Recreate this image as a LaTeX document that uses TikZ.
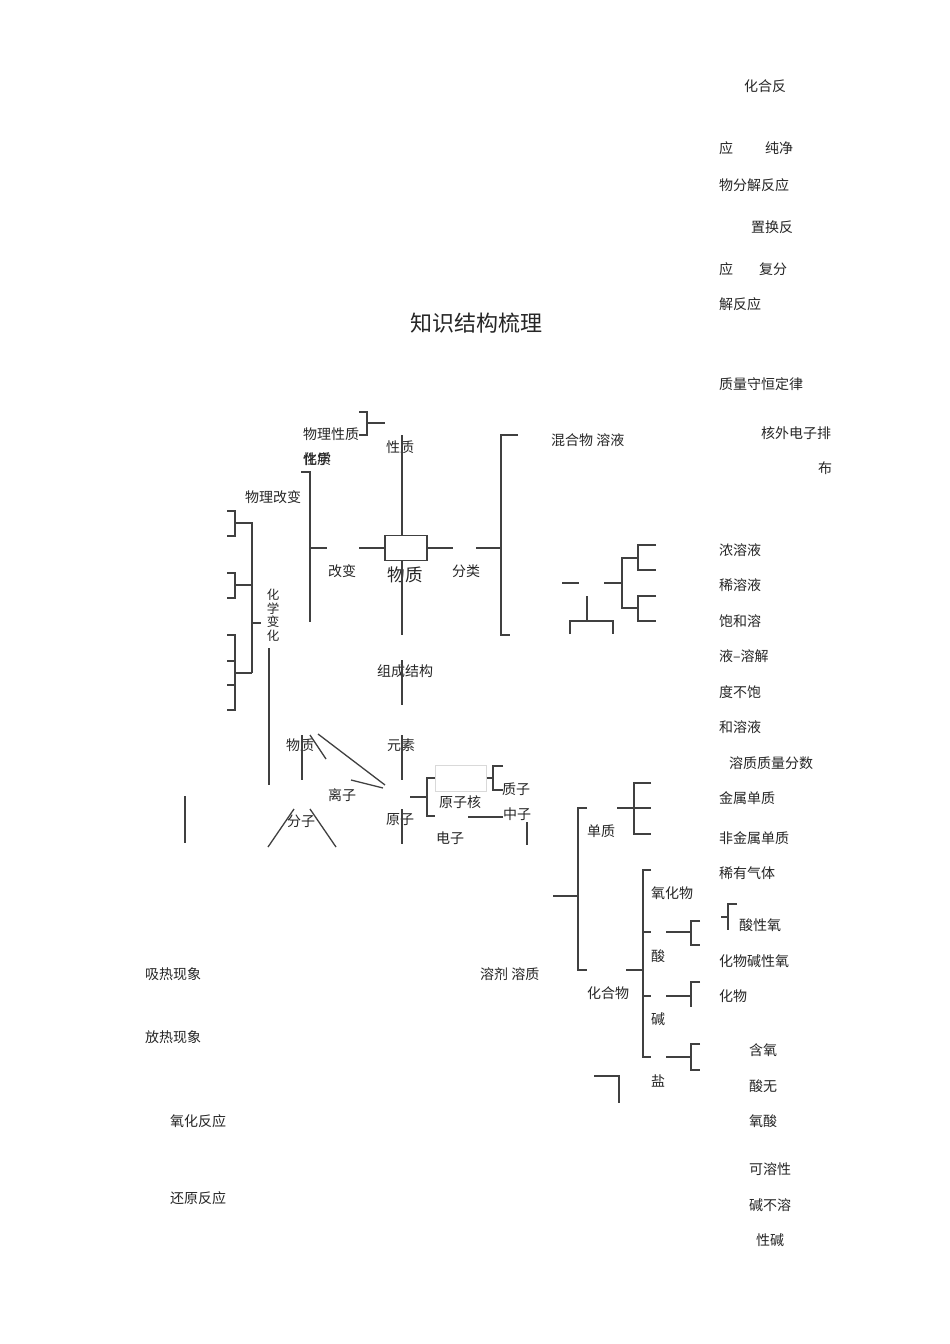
\documentclass[tikz,border=0pt]{standalone}
\usepackage{fontspec}
\setmainfont{Noto Sans CJK SC}
\begin{document}
\begin{tikzpicture}[x=1pt,y=-1pt,
  ln/.style={line width=1.3pt, draw=black!75},
  t/.style={anchor=west, inner sep=0pt, font=\fontsize{14}{16}\selectfont, text=black!85},
  vt/.style={anchor=north, inner sep=0pt, align=center, font=\fontsize{12.5}{13.5}\selectfont, text=black!85}]
\useasboundingbox[fill=white] (0,0) rectangle (950,1344);

% ---------- texts, right column ----------
\node[t] (hh1) at (744,86) {化合反};
\node[t] (hh2) at (719,148) {应};
\node[t] (cj) at (765,148) {纯净};
\node[t] (fj) at (719,185) {物分解反应};
\node[t] (zh) at (751,227) {置换反};
\node[t] (zh2) at (719,269) {应};
\node[t] (ff) at (759,269) {复分};
\node[t] (jf) at (719,304) {解反应};
\node[anchor=center, inner sep=0pt, font=\fontsize{22}{26}\selectfont, text=black!85] (title) at (476,323) {知识结构梳理};
\node[t] (zl) at (719,384) {质量守恒定律};
\node[t] (hw) at (761,433) {核外电子排};
\node[t] (bu) at (818,468) {布};
\node[t] (nr) at (719,550) {浓溶液};
\node[t] (xr) at (719,585) {稀溶液};
\node[t] (bh1) at (719,621) {饱和溶};
\node[t] (bh2) at (719,656) {液–溶解};
\node[t] (bh3) at (719,692) {度不饱};
\node[t] (bh4) at (719,727) {和溶液};
\node[t] (zlfs) at (729,763) {溶质质量分数};
\node[t] (js) at (719,798) {金属单质};
\node[t] (fjs) at (719,838) {非金属单质};
\node[t] (xy) at (719,873) {稀有气体};
\node[t] (sx) at (739,925) {酸性氧};
\node[t] (jx) at (719,961) {化物碱性氧};
\node[t] (hw2) at (719,996) {化物};
\node[t] (hy) at (749,1050) {含氧};
\node[t] (sw) at (749,1086) {酸无};
\node[t] (ys) at (749,1121) {氧酸};
\node[t] (kr) at (749,1169) {可溶性};
\node[t] (jb) at (749,1205) {碱不溶};
\node[t] (xj) at (756,1240) {性碱};

% ---------- texts, centre ----------
\node[t] (wlxz) at (303,434) {物理性质};
\node[t] (hx1) at (303,459) {性质};
\node[t] (hx2) at (303,459) {化学};
\node[t] (xz) at (386,447) {性质};
\node[t] (hhw) at (551,440) {混合物\ 溶液};
\node[t] (wlgb) at (245,497) {物理改变};
\node[t] (gb) at (328,571) {改变};
\node[anchor=center, inner sep=0pt, font=\fontsize{17.5}{20}\selectfont, text=black!85] (wz) at (405,575) {物质};
\node[t] (fl) at (452,571) {分类};
\node[vt] (hxbh) at (273,589) {化\\学\\变\\化};
\node[t] (zc) at (377,671) {组成结构};
\node[t] (wz2) at (286,745) {物质};
\node[t] (ys2) at (387,745) {元素};
\node[t] (lz) at (328,795) {离子};
\node[t] (yzh) at (439,802) {原子核};
\node[t] (zz) at (502,789) {质子};
\node[t] (zhz) at (503,814) {中子};
\node[t] (fz) at (287,821) {分子};
\node[t] (yz) at (386,820) {原子};
\node[t] (dz) at (436,838) {电子};
\node[t] (dzh) at (587,831) {单质};
\node[t] (yhw) at (651,893) {氧化物};
\node[t] (suan) at (651,956) {酸};
\node[t] (rj) at (480,974) {溶剂\ 溶质};
\node[t] (hhw2) at (587,993) {化合物};
\node[t] (jian) at (651,1019) {碱};
\node[t] (yan) at (651,1081) {盐};

% ---------- texts, left ----------
\node[t] (xr1) at (145,974) {吸热现象};
\node[t] (fr1) at (145,1037) {放热现象};
\node[t] (yh) at (170,1121) {氧化反应};
\node[t] (hy2) at (170,1198) {还原反应};

% ---------- lines ----------
% 物理性质 bracket
\draw[ln] (359,412) -- (367,412) -- (367,435) -- (359,435);
\draw[ln] (367,423) -- (385,423);
% central box and axes
\node[ln, draw, inner sep=0pt, minimum width=42pt, minimum height=25pt] (box) at (406,548) {};
\draw[ln] (402,435) -- (box.north -| 402,0);
\draw[ln] (box.south -| 402,0) -- (402,635);
\draw[ln] (box.west) -- ++(-25,0);
\draw[ln] (box.east) -- ++(25,0);
% 分类 bracket
\draw[ln] (476,548) -- (501,548);
\draw[ln] (518,435) -- (501,435) -- (501,635) -- (510,635);
% 改变 bracket
\draw[ln] (301,472) -- (310,472) -- (310,622);
\draw[ln] (310,548) -- (327,548);
% far-left brackets
\draw[ln] (227,511) -- (235,511) -- (235,536) -- (227,536);
\draw[ln] (235,523) -- (252,523) -- (252,673);
\draw[ln] (227,573) -- (235,573) -- (235,598) -- (227,598);
\draw[ln] (235,585) -- (252,585);
\draw[ln] (227,635) -- (235,635) -- (235,710) -- (227,710);
\draw[ln] (227,661) -- (235,661);
\draw[ln] (227,685) -- (235,685);
\draw[ln] (235,673) -- (252,673);
\draw[ln] (252,623) -- (261,623);
\draw[ln] (269,648) -- (269,785);
% composition
\draw[ln] (402,660) -- (402,705);
\draw[ln] (402,735) -- (402,780);
\draw[ln] (402,809) -- (402,844);
\draw[ln] (302,735) -- (302,780);
\draw[ln] (310,735) -- (326,759);
\draw[ln] (318,734) -- (385,785);
\draw[ln] (351,780) -- (383,788);
\draw[ln] (294,809) -- (268,847);
\draw[ln] (310,809) -- (336,847);
\draw[ln] (185,796) -- (185,843);
% atom
\draw[ln] (410,797) -- (427,797);
\draw[ln] (435,778) -- (427,778) -- (427,816) -- (435,816);
\node[draw=black!15, line width=1pt, inner sep=0pt, minimum width=51pt, minimum height=26pt] (nbox) at (460.5,778) {};
\draw[ln] (nbox.east) -- (493,778);
\draw[ln] (503,766) -- (493,766) -- (493,790) -- (503,790);
\draw[ln] (468,817) -- (503,817);
\draw[ln] (527,822) -- (527,845);
% solution tree
\draw[ln] (562,583) -- (579,583);
\draw[ln] (604,583) -- (622,583);
\draw[ln] (638,558) -- (622,558) -- (622,608) -- (638,608);
\draw[ln] (656,545) -- (638,545) -- (638,570) -- (656,570);
\draw[ln] (656,596) -- (638,596) -- (638,621) -- (656,621);
\draw[ln] (587,596) -- (587,621);
\draw[ln] (570,634) -- (570,621) -- (613,621) -- (613,634);
% pure substance tree
\draw[ln] (617,808) -- (634,808);
\draw[ln] (651,783) -- (634,783) -- (634,834) -- (651,834);
\draw[ln] (634,808) -- (651,808);
\draw[ln] (553,896) -- (578,896);
\draw[ln] (587,808) -- (578,808) -- (578,970) -- (587,970);
\draw[ln] (626,970) -- (643,970);
\draw[ln] (651,870) -- (643,870) -- (643,1057) -- (651,1057);
\draw[ln] (643,932) -- (651,932);
\draw[ln] (643,996) -- (651,996);
\draw[ln] (666,932) -- (691,932);
\draw[ln] (700,921) -- (691,921) -- (691,945) -- (700,945);
\draw[ln] (666,996) -- (691,996);
\draw[ln] (700,982) -- (691,982) -- (691,1007);
\draw[ln] (666,1057) -- (691,1057);
\draw[ln] (700,1044) -- (691,1044) -- (691,1070) -- (700,1070);
\draw[ln] (594,1076) -- (619,1076) -- (619,1103);
\draw[ln] (721,917) -- (728,917);
\draw[ln] (737,904) -- (728,904) -- (728,930);
\end{tikzpicture}
\end{document}
